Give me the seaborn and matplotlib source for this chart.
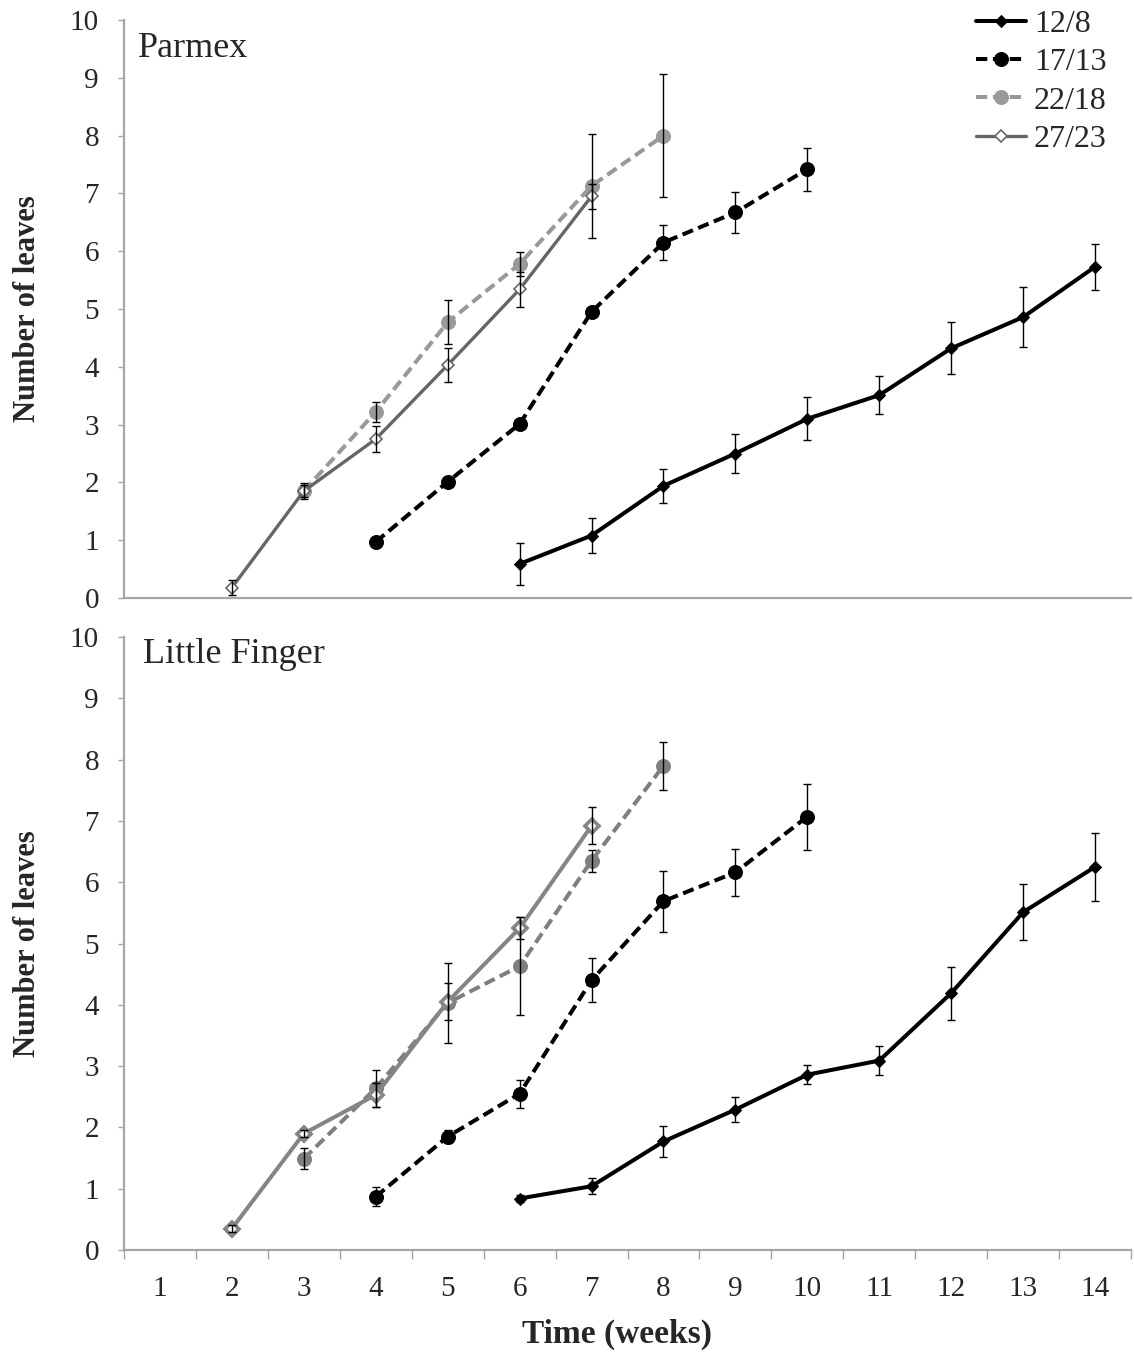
import matplotlib
matplotlib.use("Agg")
import matplotlib.pyplot as plt
import numpy as np
import pandas as pd
import seaborn as sns

# ---------------- data ----------------
weeks = list(range(1, 15))
week_labels = [str(w) for w in weeks]
y_ticks = list(range(0, 11))
treatments = ["12/8", "17/13", "22/18", "27/23"]

# Parmex
p_128_weeks = [6, 7, 8, 9, 10, 11, 12, 13, 14]
p_128_mean = [0.59, 1.08, 1.94, 2.50, 3.10, 3.51, 4.32, 4.86, 5.73]
p_128_err = [0.36, 0.31, 0.29, 0.33, 0.37, 0.33, 0.45, 0.52, 0.40]

p_1713_weeks = [4, 5, 6, 7, 8, 9, 10]
p_1713_mean = [0.97, 2.01, 3.01, 4.95, 6.15, 6.67, 7.42]
p_1713_err = [0.04, 0.04, 0.04, 0.05, 0.30, 0.35, 0.37]

p_2218_weeks = [3, 4, 5, 6, 7, 8]
p_2218_mean = [1.85, 3.22, 4.77, 5.78, 7.13, 8.00]
p_2218_err = [0.10, 0.17, 0.38, 0.21, 0.90, 1.07]

p_2723_weeks = [2, 3, 4, 5, 6, 7]
p_2723_mean = [0.18, 1.85, 2.75, 4.03, 5.34, 6.95]
p_2723_err = [0.13, 0.14, 0.23, 0.30, 0.30, 0.22]

# Little Finger
l_128_weeks = [6, 7, 8, 9, 10, 11, 12, 13, 14]
l_128_mean = [0.84, 1.04, 1.77, 2.29, 2.86, 3.09, 4.19, 5.51, 6.25]
l_128_err = [0.05, 0.13, 0.25, 0.21, 0.16, 0.24, 0.43, 0.46, 0.55]

l_1713_weeks = [4, 5, 6, 7, 8, 9, 10]
l_1713_mean = [0.87, 1.85, 2.55, 4.40, 5.69, 6.16, 7.07]
l_1713_err = [0.15, 0.10, 0.23, 0.36, 0.50, 0.38, 0.54]

l_2218_weeks = [3, 4, 5, 6, 7, 8]
l_2218_mean = [1.49, 2.64, 4.03, 4.63, 6.35, 7.90]
l_2218_err = [0.17, 0.30, 0.65, 0.80, 0.18, 0.39]

l_2723_weeks = [2, 3, 4, 5, 6, 7]
l_2723_mean = [0.35, 1.90, 2.53, 4.05, 5.25, 6.92]
l_2723_err = [0.05, 0.05, 0.20, 0.30, 0.18, 0.30]

# ---------------- styles ----------------
FONT = ["Liberation Serif", "DejaVu Serif"]
sns.set_theme(style="white")
plt.rcParams["font.family"] = FONT
plt.rcParams["mathtext.fontset"] = "stix"

dash = (0, (2.8, 1.4))
styles_top = {
    "12/8": dict(color="black", linestyle="-", marker="D", markersize=6.5,
                 markerfacecolor="black", markeredgecolor="black", linewidth=2.9),
    "17/13": dict(color="black", linestyle=dash, marker="o", markersize=10,
                  markerfacecolor="black", markeredgecolor="black", linewidth=2.9),
    "22/18": dict(color="#999999", linestyle=dash, marker="o", markersize=10,
                  markerfacecolor="#999999", markeredgecolor="#999999", linewidth=2.9),
    "27/23": dict(color="#666666", linestyle="-", marker="D", markersize=6.5,
                  markerfacecolor="white", markeredgecolor="#666666",
                  markeredgewidth=1.2, linewidth=2.4),
}
styles_bot = {
    "12/8": styles_top["12/8"],
    "17/13": styles_top["17/13"],
    "22/18": dict(color="#7f7f7f", linestyle=dash, marker="o", markersize=10,
                  markerfacecolor="#7f7f7f", markeredgecolor="#7f7f7f", linewidth=2.9),
    "27/23": dict(color="#858585", linestyle="-", marker="D", markersize=7,
                  markerfacecolor="white", markeredgecolor="#858585",
                  markeredgewidth=2.6, linewidth=2.9),
}

W, H = 1134, 1356
fig = plt.figure(figsize=(W / 100, H / 100), dpi=100)
ax_top = fig.add_axes([124 / W, 1 - 598 / H, (1131 - 124) / W, (598 - 20) / H])
ax_bot = fig.add_axes([124 / W, 1 - 1250 / H, (1131 - 124) / W, (1250 - 637) / H])

top_data = [
    ("12/8", p_128_weeks, p_128_mean, p_128_err),
    ("17/13", p_1713_weeks, p_1713_mean, p_1713_err),
    ("22/18", p_2218_weeks, p_2218_mean, p_2218_err),
    ("27/23", p_2723_weeks, p_2723_mean, p_2723_err),
]
bot_data = [
    ("12/8", l_128_weeks, l_128_mean, l_128_err),
    ("17/13", l_1713_weeks, l_1713_mean, l_1713_err),
    ("22/18", l_2218_weeks, l_2218_mean, l_2218_err),
    ("27/23", l_2723_weeks, l_2723_mean, l_2723_err),
]


def draw(ax, data, styles):
    for name, wk, mean, err in data:
        df = pd.DataFrame({"week": wk, "leaves": mean})
        sns.lineplot(data=df, x="week", y="leaves", ax=ax, errorbar=None,
                     label=name, zorder=3, **styles[name])
        ax.errorbar(wk, mean, yerr=err, fmt="none", ecolor="black",
                    elinewidth=1.0, capsize=2.9, capthick=1.0, zorder=5)


draw(ax_top, top_data, styles_top)
draw(ax_bot, bot_data, styles_bot)

spine_col = "#a6a6a6"
for ax in (ax_top, ax_bot):
    ax.set_xlim(0.5, 14.5)
    ax.set_ylim(0, 10)
    ax.set_yticks(y_ticks)
    ax.set_yticklabels([str(v) for v in y_ticks], fontsize=21, family=FONT)
    ax.tick_params(axis="y", direction="out", length=4, width=1,
                   color=spine_col, pad=14, left=True)
    for s in ("top", "right"):
        ax.spines[s].set_visible(False)
    for s in ("left", "bottom"):
        ax.spines[s].set_color(spine_col)
        ax.spines[s].set_linewidth(1.6)
    ax.set_ylabel("Number of leaves", fontsize=22, fontweight="bold", family=FONT)
    ax.yaxis.set_label_coords(-0.081, 0.5)
    ax.grid(False)

# top: no x ticks
ax_top.set_xticks([])
ax_top.set_xlabel("")
ax_top.tick_params(axis="x", bottom=False, labelbottom=False)

# bottom x axis: category style
ax_bot.set_xticks(weeks)
ax_bot.set_xticklabels(week_labels, fontsize=21, family=FONT)
ax_bot.set_xticks([w + 0.5 for w in [0] + weeks], minor=True)
ax_bot.tick_params(axis="x", which="major", length=0, pad=19, bottom=True)
ax_bot.tick_params(axis="x", which="minor", direction="out", length=6.5,
                   width=1, color=spine_col, bottom=True)
ax_bot.set_xlabel("Time (weeks)", fontsize=24, fontweight="bold", family=FONT)
ax_bot.xaxis.set_label_coords(0.49, -0.112)

# panel titles
ax_top.text(0.014, 0.936, "Parmex", transform=ax_top.transAxes, fontsize=26,
            va="baseline", ha="left", family=FONT)
ax_bot.text(0.019, 0.958, "Little Finger", transform=ax_bot.transAxes, fontsize=26,
            va="baseline", ha="left", family=FONT)

# legend
ax_bot.get_legend().remove() if ax_bot.get_legend() else None
handles, labels = ax_top.get_legend_handles_labels()
leg = ax_top.legend(handles, labels, loc="upper right", bbox_to_anchor=(0.976, 1.018),
                    frameon=False, fontsize=23, handlelength=1.55, handletextpad=0.25,
                    labelspacing=0.28, borderpad=0, borderaxespad=0,
                    prop={"family": FONT, "size": 23})

fig.savefig("out.png", dpi=100)
